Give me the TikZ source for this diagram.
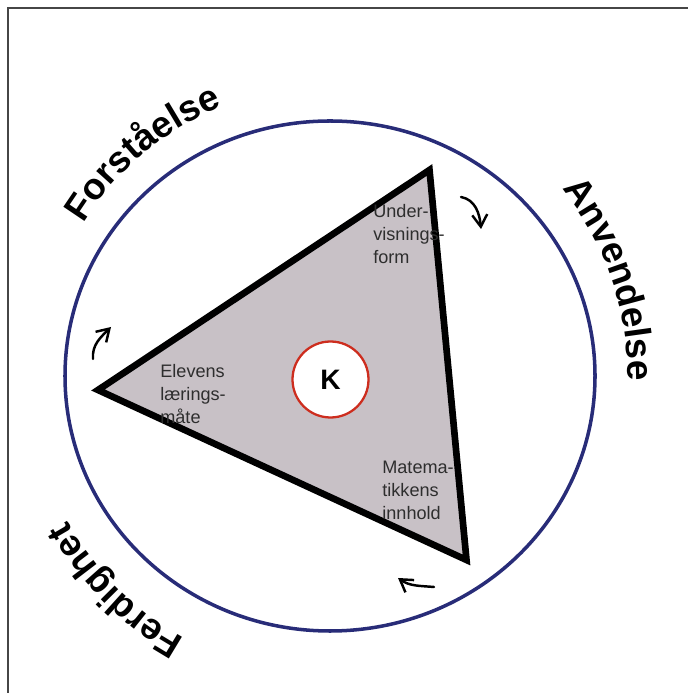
\documentclass[tikz,border=0pt]{standalone}
\usepackage{fontspec}
\setmainfont{Liberation Sans}
\usepackage{tikz}
\usetikzlibrary{shapes,arrows.meta,positioning,decorations.text}

\definecolor{ringblue}{RGB}{40,44,120}
\definecolor{trigray}{RGB}{200,193,198}
\definecolor{kred}{RGB}{205,45,30}
\definecolor{framegray}{RGB}{70,70,70}

\begin{document}
\begin{tikzpicture}[
    lbl/.style={align=left, anchor=north west, inner sep=0pt, text=black!82, font=\fontsize{10.3}{13}\selectfont},
    kring/.style={circle, draw=kred, line width=1.3pt, fill=white, minimum size=1.52cm, font=\bfseries\fontsize{16}{16}\selectfont},
    turn/.style={line width=1.4pt, line cap=round, -{Straight Barb[length=2.4mm,width=3mm]}},
    bend/.style={decorate, decoration={text along path, text align=center, text={|\bfseries\fontsize{21}{21}\selectfont|#1}}}]
    \useasboundingbox (0,0) rectangle (13.76,13.86);
    % frame, only top and left edge are visible
    \draw [framegray, line width=1pt] (0.16,0) -- (0.16,13.7) -- (13.76,13.7);
    \coordinate (c) at (6.6,6.34);
    \draw [ringblue, line width=2pt] (c) ellipse [x radius=5.3, y radius=5.1];
    % triangle
    \coordinate (top) at (8.59,10.46);
    \coordinate (left) at (1.96,6.06);
    \coordinate (bot) at (9.33,2.66);
    \draw [fill=trigray, line width=3.8pt] (top) -- (left) -- (bot) -- cycle;
    \node [kring] (k) at (6.61,6.27) {K};
    \node [lbl] (form) at (7.46,9.78) {Under-\\visnings-\\form};
    \node [lbl] (elev) at (3.2,6.58) {Elevens\\lærings-\\måte};
    \node [lbl] (innh) at (7.64,4.64) {Matema-\\tikkens\\innhold};
    % labels round the ring
    \path [bend=Forståelse] ([shift={(170:5.8)}]c) arc [start angle=170, end angle=90, radius=5.8];
    \path [bend=Anvendelse] ([shift={(59:5.96)}]c) arc [start angle=59, end angle=-21, radius=5.96];
    \path [bend=Ferdighet] ([shift={(265:6.0)}]c) arc [start angle=265, end angle=185, radius=6.0];
    % small turning arrows
    \coordinate (t1a) at (9.22,9.92);
    \coordinate (t1b) at (9.62,9.28);
    \coordinate (t2a) at (1.86,6.68);
    \coordinate (t2b) at (2.22,7.32);
    \coordinate (t3a) at (8.68,2.12);
    \coordinate (t3b) at (7.96,2.3);
    \draw [turn] (t1a) to [out=-10, in=95] (t1b);
    \draw [turn] (t2a) to [out=95, in=225] (t2b);
    \draw [turn] (t3a) to [out=175, in=-35] (t3b);
\end{tikzpicture}
\end{document}
